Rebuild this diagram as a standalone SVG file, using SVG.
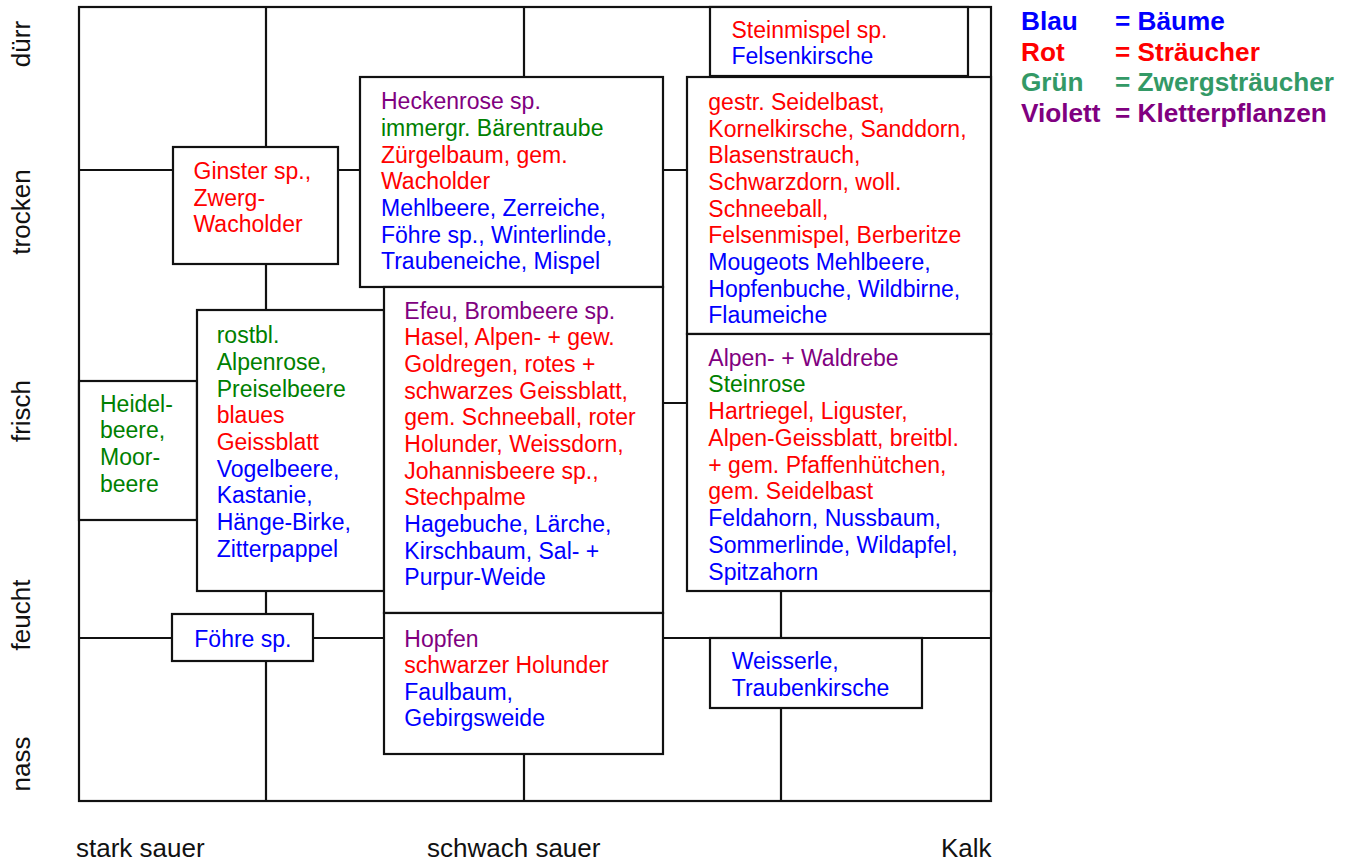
<svg xmlns="http://www.w3.org/2000/svg" width="1354" height="863" viewBox="0 0 1354 863">
<style>
.ln{stroke:#111;stroke-width:2.2;fill:none}
.bx{stroke:#111;stroke-width:2.2;fill:#fff}
text{font-family:"Liberation Sans",Arial,sans-serif}
.t{font-size:23px}
.ax{font-size:26px;fill:#111}
.lg{font-size:26.2px;font-weight:bold}
.b{fill:#0000ff}.r{fill:#ff0000}.g{fill:#008000}.v{fill:#800080}
.lgg{fill:#339966}
</style>
<rect x="0" y="0" width="1354" height="863" fill="#fff"/>
<g id="connectors">
<rect class="ln" x="79" y="7" width="912" height="794"/>
<path class="ln" d="M266 7V147M266 264V310M266 591V614M266 661V801M79 170H173M338 170H360M663 170H687M524 7V77M524 754V801M663 403H687M79 638H172M313 638H384M663 638H991M781 591V638M781 708V801"/>
</g>
<g id="axis-y">
<text class="ax" text-anchor="middle" transform="translate(30,44) rotate(-90)">dürr</text>
<text class="ax" text-anchor="middle" transform="translate(30,212) rotate(-90)">trocken</text>
<text class="ax" text-anchor="middle" transform="translate(30,411) rotate(-90)">frisch</text>
<text class="ax" text-anchor="middle" transform="translate(30,615) rotate(-90)">feucht</text>
<text class="ax" text-anchor="middle" transform="translate(30,764) rotate(-90)">nass</text>
</g>
<g id="axis-x">
<text class="ax" x="76" y="857">stark sauer</text>
<text class="ax" x="427" y="857">schwach sauer</text>
<text class="ax" x="941" y="857">Kalk</text>
</g>
<g id="steinmispel">
<rect class="bx" x="710" y="7" width="258" height="69"/>
<text class="t" x="731.5"><tspan class="r" x="731.5" y="38">Steinmispel sp.</tspan><tspan class="b" x="731.5" y="64.3">Felsenkirsche</tspan></text>
</g>
<g id="ginster">
<rect class="bx" x="173" y="147" width="165" height="117"/>
<text class="t"><tspan class="r" x="193.5" y="179.3">Ginster sp.,</tspan><tspan class="r" x="193.5" y="205.9">Zwerg-</tspan><tspan class="r" x="193.5" y="232.4">Wacholder</tspan></text>
</g>
<g id="heckenrose">
<rect class="bx" x="360" y="77" width="303" height="210"/>
<text class="t"><tspan class="v" x="381" y="109.3">Heckenrose sp.</tspan><tspan class="g" x="381" y="136">immergr. Bärentraube</tspan><tspan class="r" x="381" y="162.6">Zürgelbaum, gem.</tspan><tspan class="r" x="381" y="189.3">Wacholder</tspan><tspan class="b" x="381" y="216">Mehlbeere, Zerreiche,</tspan><tspan class="b" x="381" y="242.6">Föhre sp., Winterlinde,</tspan><tspan class="b" x="381" y="269.3">Traubeneiche, Mispel</tspan></text>
</g>
<g id="seidelbast">
<rect class="bx" x="687" y="77" width="304" height="257"/>
<text class="t"><tspan class="r" x="708.3" y="110">gestr. Seidelbast,</tspan><tspan class="r" x="708.3" y="136.7">Kornelkirsche, Sanddorn,</tspan><tspan class="r" x="708.3" y="163.3">Blasenstrauch,</tspan><tspan class="r" x="708.3" y="190">Schwarzdorn, woll.</tspan><tspan class="r" x="708.3" y="216.7">Schneeball,</tspan><tspan class="r" x="708.3" y="243.3">Felsenmispel, Berberitze</tspan><tspan class="b" x="708.3" y="270">Mougeots Mehlbeere,</tspan><tspan class="b" x="708.3" y="296.7">Hopfenbuche, Wildbirne,</tspan><tspan class="b" x="708.3" y="323.3">Flaumeiche</tspan></text>
</g>
<g id="heidelbeere">
<rect class="bx" x="79" y="381" width="118" height="139"/>
<text class="t"><tspan class="g" x="100" y="411.7">Heidel-</tspan><tspan class="g" x="100" y="438.3">beere,</tspan><tspan class="g" x="100" y="465">Moor-</tspan><tspan class="g" x="100" y="491.7">beere</tspan></text>
</g>
<g id="alpenrose">
<rect class="bx" x="197" y="310" width="187" height="281"/>
<text class="t"><tspan class="g" x="216.7" y="343.3">rostbl.</tspan><tspan class="g" x="216.7" y="370">Alpenrose,</tspan><tspan class="g" x="216.7" y="396.6">Preiselbeere</tspan><tspan class="r" x="216.7" y="423.3">blaues</tspan><tspan class="r" x="216.7" y="450">Geissblatt</tspan><tspan class="b" x="216.7" y="476.6">Vogelbeere,</tspan><tspan class="b" x="216.7" y="503.3">Kastanie,</tspan><tspan class="b" x="216.7" y="530">Hänge-Birke,</tspan><tspan class="b" x="216.7" y="556.6">Zitterpappel</tspan></text>
</g>
<g id="efeu">
<rect class="bx" x="384" y="287" width="279" height="326"/>
<text class="t"><tspan class="v" x="404.3" y="318.5">Efeu, Brombeere sp.</tspan><tspan class="r" x="404.3" y="345.2">Hasel, Alpen- + gew.</tspan><tspan class="r" x="404.3" y="371.8">Goldregen, rotes +</tspan><tspan class="r" x="404.3" y="398.5">schwarzes Geissblatt,</tspan><tspan class="r" x="404.3" y="425.2">gem. Schneeball, roter</tspan><tspan class="r" x="404.3" y="451.9">Holunder, Weissdorn,</tspan><tspan class="r" x="404.3" y="478.5">Johannisbeere sp.,</tspan><tspan class="r" x="404.3" y="505.2">Stechpalme</tspan><tspan class="b" x="404.3" y="531.9">Hagebuche, Lärche,</tspan><tspan class="b" x="404.3" y="558.5">Kirschbaum, Sal- +</tspan><tspan class="b" x="404.3" y="585.2">Purpur-Weide</tspan></text>
</g>
<g id="waldrebe">
<rect class="bx" x="687" y="334" width="304" height="257"/>
<text class="t"><tspan class="v" x="708.3" y="365.5">Alpen- + Waldrebe</tspan><tspan class="g" x="708.3" y="392.3">Steinrose</tspan><tspan class="r" x="708.3" y="419">Hartriegel, Liguster,</tspan><tspan class="r" x="708.3" y="445.8">Alpen-Geissblatt, breitbl.</tspan><tspan class="r" x="708.3" y="472.5">+ gem. Pfaffenhütchen,</tspan><tspan class="r" x="708.3" y="499.3">gem. Seidelbast</tspan><tspan class="b" x="708.3" y="526">Feldahorn, Nussbaum,</tspan><tspan class="b" x="708.3" y="552.8">Sommerlinde, Wildapfel,</tspan><tspan class="b" x="708.3" y="579.5">Spitzahorn</tspan></text>
</g>
<g id="foehre">
<rect class="bx" x="172" y="614" width="141" height="47"/>
<text class="t b" x="194.3" y="646.7">Föhre sp.</text>
</g>
<g id="hopfen">
<rect class="bx" x="384" y="613" width="279" height="141"/>
<text class="t"><tspan class="v" x="404.3" y="646.6">Hopfen</tspan><tspan class="r" x="404.3" y="673">schwarzer Holunder</tspan><tspan class="b" x="404.3" y="699.5">Faulbaum,</tspan><tspan class="b" x="404.3" y="726">Gebirgsweide</tspan></text>
</g>
<g id="weisserle">
<rect class="bx" x="710" y="638" width="212" height="70"/>
<text class="t"><tspan class="b" x="731.7" y="669.3">Weisserle,</tspan><tspan class="b" x="731.7" y="695.8">Traubenkirsche</tspan></text>
</g>
<g id="legend">
<text class="lg b" x="1021" y="29.5">Blau</text><text class="lg b" x="1115" y="29.5">= Bäume</text>
<text class="lg r" x="1021" y="60.5">Rot</text><text class="lg r" x="1115" y="60.5">= Sträucher</text>
<text class="lg lgg" x="1021" y="91.2">Grün</text><text class="lg lgg" x="1115" y="91.2">= Zwergsträucher</text>
<text class="lg v" x="1021" y="121.8">Violett</text><text class="lg v" x="1115" y="121.8">= Kletterpflanzen</text>
</g>
</svg>
